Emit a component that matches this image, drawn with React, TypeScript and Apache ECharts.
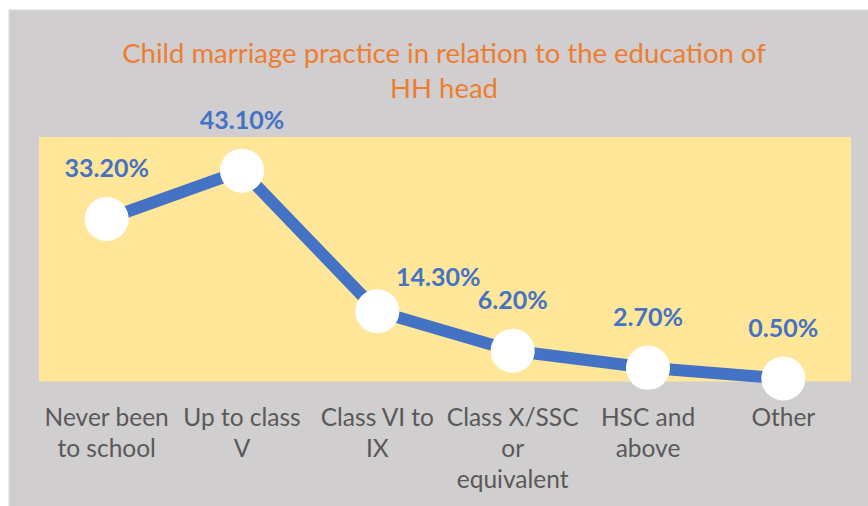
import React, { useEffect, useRef } from "react";
import * as echarts from "echarts";

const titleText = "Child marriage practice in relation to the education of\nHH head";
const categories = [
  "Never been\nto school",
  "Up to class\nV",
  "Class VI to\nIX",
  "Class X/SSC\nor\nequivalent",
  "HSC and\nabove",
  "Other",
];
const values = [33.2, 43.1, 14.3, 6.2, 2.7, 0.5];
const labelOffsets: [number, number][] = [
  [0, 0],
  [0, 0],
  [61, 17],
  [0, 0],
  [0, 0],
  [0, 0],
];

export default function App() {
  const ref = useRef<HTMLDivElement>(null);
  useEffect(() => {
    if (!ref.current) return;
    const chart = echarts.init(ref.current, undefined, { renderer: "svg" });
    chart.setOption({
      animation: false,
      backgroundColor: "#ffffff",
      graphic: [
        {
          type: "rect",
          shape: { x: 9, y: 10, width: 870, height: 500 },
          style: { fill: "#d0cece", stroke: "#d9d9d9", lineWidth: 1 },
          z: -10,
          silent: true,
        },
        {
          type: "text",
          x: 444,
          y: 35,
          z: 10,
          silent: true,
          style: {
            text: titleText,
            textAlign: "center",
            textVerticalAlign: "top",
            fontFamily: "Lato",
            fontSize: 27.5,
            lineHeight: 35,
            fill: "#ed7d31",
          },
        },
      ],
      grid: {
        left: 39,
        right: 17,
        top: 137,
        height: 244,
        show: true,
        backgroundColor: "#ffe699",
        borderWidth: 0,
      },
      xAxis: {
        type: "category",
        data: categories,
        boundaryGap: true,
        axisLine: { show: true, lineStyle: { color: "#e8dcb5", width: 1 } },
        axisTick: { show: false },
        axisLabel: {
          interval: 0,
          fontFamily: "Lato",
          fontSize: 24.5,
          lineHeight: 31,
          color: "#595959",
          margin: 20,
        },
      },
      yAxis: {
        type: "value",
        min: 0,
        max: 50,
        show: false,
        splitLine: { show: false },
      },
      series: [
        {
          type: "line",
          data: values.map((v, i) => ({
            value: v,
            label: { offset: labelOffsets[i] },
          })),
          lineStyle: { color: "#4472c4", width: 12 },
          itemStyle: { color: "#ffffff", borderWidth: 0 },
          symbol: "circle",
          symbolSize: 44,
          label: {
            show: true,
            position: "top",
            distance: 17,
            formatter: (p: any) => p.value.toFixed(2) + "%",
            fontFamily: "Lato",
            fontWeight: "bold",
            fontSize: 25,
            lineHeight: 26,
            color: "#4472c4",
          },
        },
      ],
    });
    return () => chart.dispose();
  }, []);
  return (
    <div
      ref={ref}
      style={{ position: "absolute", left: 0, top: 0, width: 868, height: 506 }}
    />
  );
}
